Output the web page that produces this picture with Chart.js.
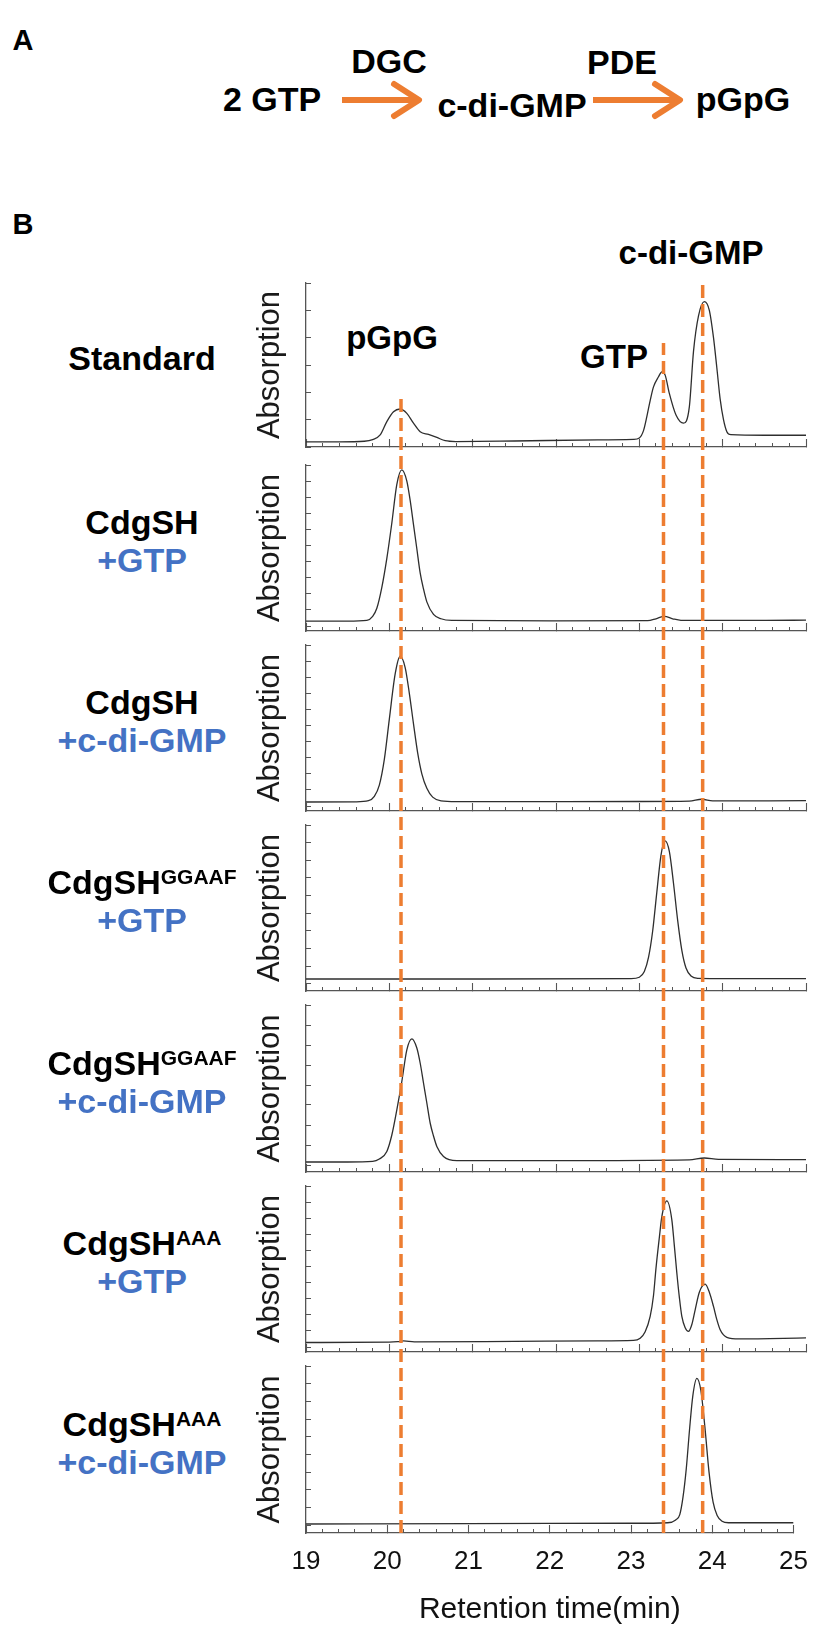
<!DOCTYPE html>
<html>
<head>
<meta charset="utf-8">
<title>c-di-GMP HPLC</title>
<script src="https://cdn.jsdelivr.net/npm/chart.js@4.4.1/dist/chart.umd.min.js"></script>
<style>
  body { margin: 0; background: #fff; }
  #fig { position: relative; width: 829px; height: 1633px; overflow: hidden;
         font-family: 'Liberation Sans', Arial, Helvetica, sans-serif; color: #000; }
  .lbl { position: absolute; transform: translate(-50%, -50%); line-height: 1;
         white-space: nowrap; font-weight: bold; }
  .sup { font-size: 21px; position: relative; top: -10px; }
  .box { position: absolute; }
  .blue { color: #4472C4; }
</style>
</head>
<body>
<div id="fig">
  <!-- panel A: reaction scheme -->
  <div class="lbl" style="left:23px;top:40px;font-size:29px">A</div>
  <div class="lbl" style="left:272px;top:99px;font-size:34px">2 GTP</div>
  <div class="lbl" style="left:389px;top:61px;font-size:34px">DGC</div>
  <div class="lbl" style="left:512px;top:105px;font-size:34px">c-di-GMP</div>
  <div class="lbl" style="left:622px;top:62px;font-size:34px">PDE</div>
  <div class="lbl" style="left:743px;top:99px;font-size:34px">pGpG</div>
  <svg class="box" style="left:0;top:0" width="829" height="200">
    <g stroke="#ED7D31" stroke-width="6" fill="none">
      <path d="M342 100 H417"/>
      <path d="M394 84 L419 100 L394 116" stroke-linecap="round" stroke-linejoin="round"/>
      <path d="M593 100 H677"/>
      <path d="M655 84 L680 100 L655 116" stroke-linecap="round" stroke-linejoin="round"/>
    </g>
  </svg>

  <!-- panel B -->
  <div class="lbl" style="left:23px;top:224px;font-size:29px">B</div>
  <div class="lbl" style="left:392px;top:337px;font-size:33px">pGpG</div>
  <div class="lbl" style="left:614px;top:356px;font-size:33px">GTP</div>
  <div class="lbl" style="left:691px;top:252px;font-size:33px">c-di-GMP</div>
</div>

<script>
// x axis
const retentionTicks = [19, 20, 21, 22, 23, 24, 25];

// reference compounds (dashed markers)
const markerNames = ['pGpG', 'GTP', 'c-di-GMP'];
const markerTimes = [20.14, 23.29, 23.76];

// sample labels
const sampleNames = ['Standard', 'CdgSH', 'CdgSH', 'CdgSH', 'CdgSH', 'CdgSH', 'CdgSH'];
const sampleMutants = ['', '', '', 'GGAAF', 'GGAAF', 'AAA', 'AAA'];
const sampleSubstrates = ['', '+GTP', '+c-di-GMP', '+GTP', '+c-di-GMP', '+GTP', '+c-di-GMP'];

// traces: retention time (min) / absorption (axis tick units)
const standardT = [19.0, 19.4, 19.7, 19.8, 19.89, 19.97, 20.05, 20.13, 20.21, 20.29, 20.37, 20.47, 20.57, 20.67, 20.8, 21.5, 22.5, 22.93, 23.0, 23.05, 23.09, 23.13, 23.17, 23.23, 23.27, 23.31, 23.36, 23.44, 23.53, 23.6, 23.65, 23.71, 23.78, 23.84, 23.89, 23.93, 23.97, 24.01, 24.05, 24.1, 24.5, 25.0];
const standardA = [0.19, 0.19, 0.21, 0.27, 0.44, 0.93, 1.29, 1.39, 1.23, 0.87, 0.56, 0.46, 0.35, 0.23, 0.2, 0.22, 0.26, 0.28, 0.33, 0.6, 1.11, 1.7, 2.2, 2.57, 2.75, 2.63, 1.96, 1.17, 0.87, 1.47, 3.5, 4.8, 5.32, 5.0, 4.0, 2.9, 1.75, 1.0, 0.56, 0.45, 0.43, 0.43];

const wtGtpT = [19.0, 19.5, 19.73, 19.8, 19.85, 19.91, 19.97, 20.03, 20.09, 20.15, 20.21, 20.25, 20.29, 20.33, 20.37, 20.41, 20.45, 20.53, 20.62, 20.75, 22.0, 23.1, 23.2, 23.3, 23.4, 23.5, 24.5, 25.0];
const wtGtpA = [0.3, 0.3, 0.35, 0.6, 1.1, 2.4, 4.2, 6.4, 8.8, 9.7, 9.0, 7.8, 6.3, 4.8, 3.3, 2.3, 1.5, 0.72, 0.45, 0.35, 0.32, 0.33, 0.45, 0.6, 0.45, 0.35, 0.35, 0.36];

const wtCdgT = [19.0, 19.6, 19.75, 19.82, 19.88, 19.94, 20.0, 20.07, 20.13, 20.19, 20.24, 20.29, 20.34, 20.39, 20.45, 20.52, 20.62, 20.8, 23.0, 23.6, 23.75, 23.88, 25.0];
const wtCdgA = [0.25, 0.26, 0.33, 0.6, 1.3, 2.9, 5.4, 8.2, 9.3, 8.6, 7.0, 5.1, 3.3, 2.0, 1.1, 0.55, 0.32, 0.27, 0.28, 0.3, 0.42, 0.32, 0.33];

const ggaafGtpT = [19.0, 21.0, 22.9, 23.0, 23.06, 23.11, 23.16, 23.21, 23.26, 23.31, 23.36, 23.41, 23.46, 23.51, 23.56, 23.62, 23.7, 24.5, 25.0];
const ggaafGtpA = [0.28, 0.28, 0.3, 0.38, 0.7, 1.5, 3.0, 5.2, 7.3, 8.1, 7.5, 5.7, 3.6, 1.9, 0.9, 0.45, 0.32, 0.3, 0.3];

const ggaafCdgT = [19.0, 19.5, 19.8, 19.88, 19.97, 20.03, 20.09, 20.15, 20.21, 20.27, 20.33, 20.37, 20.41, 20.45, 20.49, 20.53, 20.57, 20.65, 20.81, 22.0, 23.6, 23.78, 23.95, 25.0];
const ggaafCdgA = [0.15, 0.15, 0.18, 0.3, 0.68, 1.5, 2.76, 4.18, 5.76, 6.31, 5.85, 5.1, 4.1, 3.1, 2.1, 1.45, 0.93, 0.43, 0.22, 0.22, 0.26, 0.35, 0.28, 0.27];

const aaaGtpT = [19.0, 20.0, 20.1, 20.17, 20.3, 21.5, 22.5, 22.93, 23.01, 23.07, 23.13, 23.17, 23.2, 23.24, 23.27, 23.33, 23.39, 23.42, 23.45, 23.48, 23.51, 23.55, 23.59, 23.63, 23.67, 23.72, 23.79, 23.84, 23.89, 23.93, 23.97, 24.01, 24.05, 24.2, 25.0];
const aaaGtpA = [0.28, 0.3, 0.33, 0.38, 0.32, 0.35, 0.38, 0.41, 0.55, 0.95, 1.9, 3.2, 4.9, 6.8, 8.1, 9.07, 7.9, 6.3, 4.6, 3.1, 1.9, 1.2, 0.97, 1.4, 2.31, 3.4, 3.9, 3.4, 2.52, 1.7, 1.07, 0.75, 0.6, 0.5, 0.57];

const aaaCdgT = [19.0, 21.0, 23.0, 23.45, 23.55, 23.6, 23.64, 23.68, 23.72, 23.76, 23.81, 23.86, 23.91, 23.96, 24.01, 24.06, 24.12, 24.2, 25.0];
const aaaCdgA = [0.07, 0.09, 0.11, 0.14, 0.3, 0.6, 1.6, 3.2, 5.4, 7.3, 8.3, 7.6, 5.5, 3.0, 1.3, 0.55, 0.22, 0.14, 0.14];

// layout of the seven stacked panels (pixels) and their y ranges
const panels = [
  { t: standardT, a: standardA, top: 283, bottom: 447, yMin: 0, yMax: 6 },
  { t: wtGtpT, a: wtGtpA, top: 465, bottom: 631, yMin: -0.31, yMax: 10 },
  { t: wtCdgT, a: wtCdgA, top: 645, bottom: 811, yMin: -0.31, yMax: 10 },
  { t: ggaafGtpT, a: ggaafGtpA, top: 825, bottom: 991, yMin: -0.4, yMax: 9 },
  { t: ggaafCdgT, a: ggaafCdgA, top: 1005, bottom: 1172, yMin: -0.35, yMax: 8 },
  { t: aaaGtpT, a: aaaGtpA, top: 1186, bottom: 1352, yMin: -0.31, yMax: 10 },
  { t: aaaCdgT, a: aaaCdgA, top: 1366, bottom: 1533, yMin: -0.44, yMax: 9 }
];
const markerTopPx = [393, 343, 283];

const FIG_W = 829, FIG_H = 1633;
const BOX_L = 230, PAD_L = 22, Y_AXIS_W = 54, PAD_R = 23;
const AXIS = '#555';
const ORANGE = '#ED7D31';

Chart.defaults.font.family = "'Liberation Sans', Arial, Helvetica, sans-serif";
Chart.defaults.color = '#111';

const fig = document.getElementById('fig');

function addBox(left, top, width, height) {
  const div = document.createElement('div');
  div.className = 'box';
  div.style.cssText = `left:${left}px;top:${top}px;width:${width}px;height:${height}px`;
  const cv = document.createElement('canvas');
  div.appendChild(cv);
  fig.appendChild(div);
  return cv;
}

function addLabel(html, x, y, cls) {
  const el = document.createElement('div');
  el.className = 'lbl' + (cls ? ' ' + cls : '');
  el.style.left = x + 'px';
  el.style.top = y + 'px';
  el.style.fontSize = '34px';
  el.innerHTML = html;
  fig.appendChild(el);
}

// minor ticks every 0.2 min between the labelled ticks
const minorTicks = [];
retentionTicks.forEach((v, i) => {
  if (i === retentionTicks.length - 1) { minorTicks.push(v); return; }
  for (let k = 0; k < 5; k++) minorTicks.push(v + k * (retentionTicks[i + 1] - v) / 5);
});

panels.forEach((p, i) => {
  const last = i === panels.length - 1;
  const boxTop = p.top - 5;
  const boxBottom = last ? FIG_H : p.bottom + 5;
  const cv = addBox(BOX_L, boxTop, FIG_W - BOX_L, boxBottom - boxTop);

  new Chart(cv, {
    type: 'line',
    data: {
      datasets: [{
        data: p.t.map((t, k) => ({ x: t, y: p.a[k] })),
        borderColor: '#2e2e2e',
        borderWidth: 1.3,
        pointRadius: 0,
        cubicInterpolationMode: 'monotone',
        fill: false
      }]
    },
    options: {
      responsive: true,
      maintainAspectRatio: false,
      animation: false,
      events: [],
      layout: { padding: { left: PAD_L, right: PAD_R, top: 5, bottom: 5 } },
      plugins: { legend: { display: false }, tooltip: { enabled: false } },
      scales: {
        xMinor: {
          type: 'linear', axis: 'x', position: 'bottom', weight: 0,
          min: 19, max: 25, bounds: 'data',
          afterBuildTicks: s => { s.ticks = minorTicks.map(v => ({ value: v })); },
          ticks: { display: false },
          border: { display: false },
          grid: { drawOnChartArea: false, tickLength: -4, tickColor: AXIS, tickWidth: 1 },
          afterFit: s => { s.height = 0; }
        },
        x: {
          type: 'linear', position: 'bottom', weight: 1,
          min: 19, max: 25, bounds: 'data',
          afterBuildTicks: s => { s.ticks = retentionTicks.map(v => ({ value: v })); },
          ticks: { display: last, padding: 21, font: { size: 26 }, color: '#111', maxRotation: 0, autoSkip: false },
          title: { display: last, text: 'Retention time(min)', font: { size: 30 }, color: '#111', padding: { top: 0, bottom: 0 } },
          border: { display: true, color: AXIS, width: 1.3 },
          grid: { drawOnChartArea: false, tickLength: -8, tickColor: AXIS, tickWidth: 1.1 },
          afterFit: s => { s.height = last ? FIG_H - 5 - p.bottom : 0; }
        },
        y: {
          type: 'linear', position: 'left',
          min: p.yMin, max: p.yMax, bounds: 'data',
          afterBuildTicks: s => {
            const t = [];
            for (let v = 0; v <= p.yMax; v++) t.push({ value: v });
            s.ticks = t;
          },
          ticks: { display: false },
          title: { display: true, text: 'Absorption', font: { size: 31 }, color: '#1a1a1a', padding: 0 },
          border: { display: true, color: AXIS, width: 1.3 },
          grid: { drawOnChartArea: false, tickLength: -5, tickColor: AXIS, tickWidth: 1 },
          afterFit: s => { s.width = Y_AXIS_W; }
        }
      }
    }
  });

  // sample label on the left
  const cy = (p.top + p.bottom) / 2 - 7;
  let name = sampleNames[i];
  if (sampleMutants[i]) name += `<span class="sup">${sampleMutants[i]}</span>`;
  if (sampleSubstrates[i]) {
    addLabel(name, 142, cy - 19);
    addLabel(sampleSubstrates[i], 142, cy + 19, 'blue');
  } else {
    addLabel(name, 142, cy);
  }
});

// dashed marker lines across all panels
const plotTop = panels[0].top, plotBottom = panels[panels.length - 1].bottom;
const ovCv = addBox(0, plotTop, FIG_W, plotBottom - plotTop);
ovCv.parentNode.style.pointerEvents = 'none';
new Chart(ovCv, {
  type: 'line',
  data: {
    datasets: markerTimes.map((t, k) => ({
      label: markerNames[k],
      data: [{ x: t, y: 0 }, { x: t, y: (plotBottom - markerTopPx[k]) / (plotBottom - plotTop) }],
      borderColor: ORANGE,
      borderWidth: 3.5,
      borderDash: [13, 6],
      borderCapStyle: 'butt',
      pointRadius: 0,
      clip: false
    }))
  },
  options: {
    responsive: true,
    maintainAspectRatio: false,
    animation: false,
    events: [],
    layout: { padding: { left: BOX_L + PAD_L + Y_AXIS_W, right: PAD_R, top: 0, bottom: 0 } },
    plugins: { legend: { display: false }, tooltip: { enabled: false } },
    scales: {
      x: { type: 'linear', min: 19, max: 25, display: false },
      y: { type: 'linear', min: 0, max: 1, display: false }
    }
  }
});
</script>
</body>
</html>
